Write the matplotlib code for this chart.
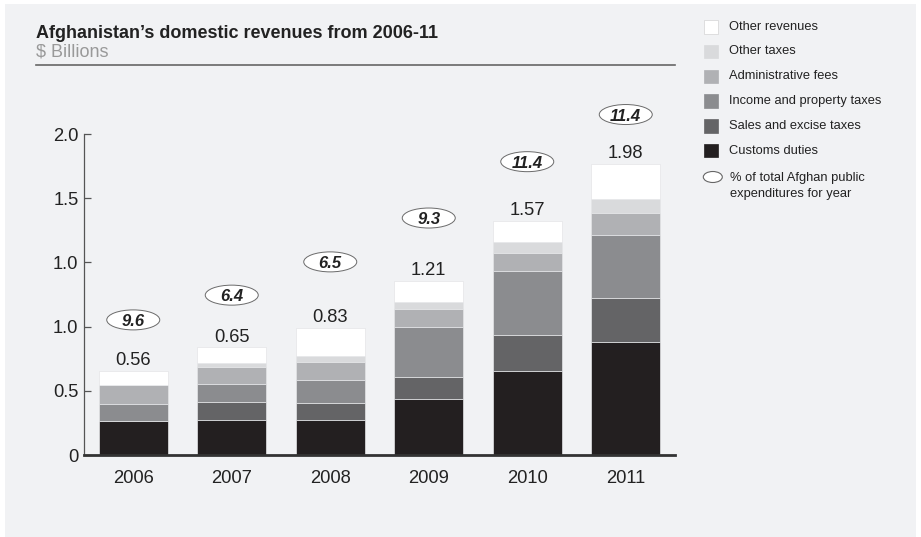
import numpy as np
import matplotlib
matplotlib.use('Agg')
import matplotlib.pyplot as plt
from matplotlib.patches import Ellipse, Rectangle
from matplotlib.lines import Line2D

plt.rcParams['font.family'] = ['Liberation Sans', 'DejaVu Sans']

# data (heights in axis tick units)
years = ['2006', '2007', '2008', '2009', '2010', '2011']
customs = [0.53, 0.54, 0.54, 0.88, 1.31, 1.76]
sales = [0.00, 0.28, 0.27, 0.33, 0.56, 0.68]
income = [0.27, 0.28, 0.36, 0.78, 0.99, 0.99]
admin = [0.29, 0.27, 0.28, 0.28, 0.29, 0.34]
other_taxes = [0.00, 0.07, 0.09, 0.11, 0.17, 0.21]
other_rev = [0.22, 0.24, 0.44, 0.33, 0.33, 0.56]
totals = ['0.56', '0.65', '0.83', '1.21', '1.57', '1.98']
share = ['9.6', '6.4', '6.5', '9.3', '11.4', '11.4']
ytick_labels = ['0', '0.5', '1.0', '1.0', '1.5', '2.0']

series = [customs, sales, income, admin, other_taxes, other_rev]
names = ['Customs duties', 'Sales and excise taxes', 'Income and property taxes',
         'Administrative fees', 'Other taxes', 'Other revenues']
colors = ['#231f20', '#646466', '#8b8c8f', '#b0b1b4', '#d9dadc', '#ffffff']

# bubble distance above the bar top, in pixels
bubble_gap = [51, 52, 66, 63, 59, 49]

W, H = 921, 537
fig = plt.figure(figsize=(W / 100, H / 100), dpi=100)
fig.patch.set_facecolor('white')


def fx(px):
    return px / W


def fy(py):
    return 1 - py / H


# grey panel
fig.add_artist(Rectangle((fx(5), 0), fx(911), 533 / H, transform=fig.transFigure,
                         facecolor='#f1f2f4', edgecolor='none', zorder=-5))

ax = fig.add_axes([fx(84), 82 / H, fx(591), 321 / H])
ax.set_facecolor('none')

x = np.arange(len(years))
bottom = np.zeros(len(years))
for vals, c in zip(series, colors):
    ax.bar(x, vals, width=0.7, bottom=bottom, color=c, edgecolor='#e4e5e7',
           linewidth=0.5, zorder=2)
    bottom += np.array(vals)

ax.set_xlim(-0.5, 5.5)
ax.set_ylim(0, 5)
ax.set_yticks(range(6))
ax.set_yticklabels(ytick_labels)
ax.set_xticks(x)
ax.set_xticklabels(years)

for s in ['top', 'right']:
    ax.spines[s].set_visible(False)
ax.spines['left'].set_color('#555555')
ax.spines['left'].set_linewidth(0.9)
ax.spines['bottom'].set_color('#333333')
ax.spines['bottom'].set_linewidth(2)
ax.spines['bottom'].set_zorder(3)
ax.tick_params(axis='y', direction='in', length=5, width=0.9, color='#555555',
               labelsize=13.2, labelcolor='#222222', pad=4)
ax.tick_params(axis='x', length=0, labelsize=13.2, labelcolor='#222222', pad=11)

px_per_y = 321 / 5
for i in range(len(years)):
    top = bottom[i]
    ax.annotate(totals[i], (i, top), xytext=(0, 4), textcoords='offset points',
                ha='center', va='baseline', fontsize=13.2, color='#222222')
    yc = top + bubble_gap[i] / px_per_y
    ax.add_patch(Ellipse((i, yc), 53 / 98.5, 20 / px_per_y, facecolor='white',
                         edgecolor='#6a6a6a', linewidth=0.7, clip_on=False, zorder=4))
    ax.text(i, yc, share[i], ha='center', va='center_baseline', fontsize=12,
            fontweight='bold', fontstyle='italic', color='#222222', zorder=5)

# title block
fig.text(fx(36), fy(33), 'Afghanistan\u2019s domestic revenues from 2006-11',
         fontsize=13, fontweight='bold', color='#222222', va='center')
fig.text(fx(36), fy(52), '$ Billions', fontsize=13, color='#999999', va='center')
fig.add_artist(Line2D([fx(36), fx(675)], [fy(65), fy(65)], color='#666666',
                      linewidth=1.2, transform=fig.transFigure))

# legend
legend_rows = list(zip(names, colors))[::-1]
for k, (name, c) in enumerate(legend_rows):
    yc = 26.7 + k * 24.8
    fig.add_artist(Rectangle((fx(703.5), fy(yc + 6.8)), fx(14), 13.5 / H,
                             transform=fig.transFigure, facecolor=c,
                             edgecolor='#d4d4d4' if c == '#ffffff' else c,
                             linewidth=0.5))
    fig.text(fx(728.5), fy(yc), name, fontsize=9.3, color='#222222', va='center')

fig.add_artist(Ellipse((fx(712.8), fy(177)), fx(19), 11 / H, transform=fig.transFigure,
                       facecolor='white', edgecolor='#666666', linewidth=0.8))
fig.text(fx(730), fy(178), '% of total Afghan public', fontsize=9.3,
         color='#222222', va='center')
fig.text(fx(730), fy(193.5), 'expenditures for year', fontsize=9.3,
         color='#222222', va='center')

fig.savefig('out.png', dpi=100)
